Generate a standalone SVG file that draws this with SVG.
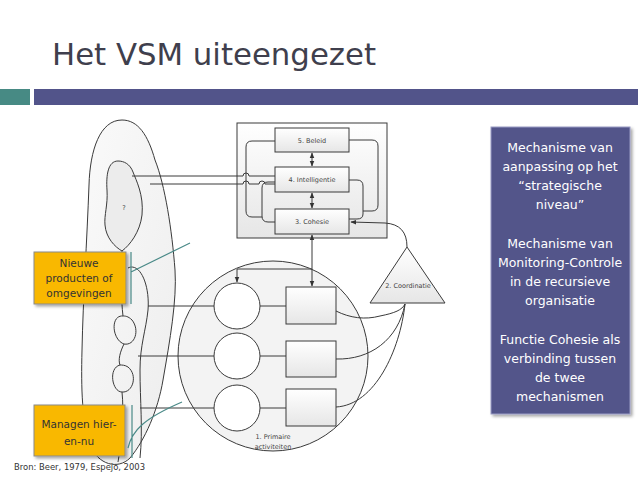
<svg xmlns="http://www.w3.org/2000/svg" width="638" height="479" viewBox="0 0 638 479">
<defs>
<linearGradient id="gBox" x1="0" y1="0" x2="0" y2="1"><stop offset="0" stop-color="#ffffff"/><stop offset="1" stop-color="#e6e6e6"/></linearGradient>
<linearGradient id="gEnv" x1="0" y1="0" x2="1" y2="1"><stop offset="0" stop-color="#fafafa"/><stop offset="1" stop-color="#ededed"/></linearGradient>
<filter id="sh" x="-10%" y="-10%" width="130%" height="130%"><feDropShadow dx="2" dy="2" stdDeviation="1.5" flood-color="#000" flood-opacity="0.35"/></filter>
<marker id="ah" viewBox="0 0 10 10" refX="9" refY="5" markerWidth="6" markerHeight="6" orient="auto-start-reverse"><path d="M0,1 L10,5 L0,9 Z" fill="#333"/></marker>
<style>
.ln{fill:none;stroke:#3a3a3a;stroke-width:1}
.bx{fill:url(#gBox);stroke:#3a3a3a;stroke-width:1}
.sm{font-family:"DejaVu Sans",sans-serif;font-size:6.5px;fill:#444;text-anchor:middle}
.yb{fill:#f9b800;stroke:#8a8a8a;stroke-width:1}
.yt{font-family:"DejaVu Sans",sans-serif;font-size:10.5px;fill:#333;text-anchor:middle}
.wt{font-family:"DejaVu Sans",sans-serif;font-size:12.5px;fill:#ffffff;text-anchor:middle}
.tl{fill:none;stroke:#4a8a88;stroke-width:1.2}
</style>
</defs>
<rect width="638" height="479" fill="#ffffff"/>
<g id="title">
<text x="52" y="65" font-family="DejaVu Sans,sans-serif" font-size="30" fill="#3f3f4d" textLength="324" lengthAdjust="spacingAndGlyphs">Het VSM uiteengezet</text>
<rect x="0" y="89" width="30" height="16" fill="#478a84"/>
<rect x="34" y="89" width="604" height="16" fill="#52548a"/>
</g>
<g id="environment">
<path class="ln" fill="url(#gEnv)" style="fill:url(#gEnv)" d="M122,120 C100,120 90,150 89,185 C87,240 83,300 82,350 C81,390 82,420 90,445 C98,465 118,470 130,458 C145,440 158,410 163,380 C170,340 177,300 175,270 C172,230 165,185 155,160 C148,135 138,120 122,120 Z"/>
<path class="ln" style="fill:#ececec" d="M118,161 C108,161 106,175 107,190 C108,205 104,215 105,225 C106,238 115,247 122,251 C130,245 140,232 142,215 C144,195 136,180 133,172 C130,164 124,161 118,161 Z"/>
<text class="sm" x="124" y="210">?</text>
<path class="ln" d="M122,251 C121,275 121,300 123,316"/>
<path class="ln" d="M128,268 C140,262 150,285 148,310 C146,330 140,345 140,370 C140,400 143,430 140,458"/>
<path class="ln" d="M123,316 C110,315 112,340 124,344 C135,346 140,330 132,320 C128,316 125,316 123,316 Z"/>
<path class="ln" d="M124,344 C120,352 118,360 120,365 C108,368 112,392 122,392 C133,393 138,375 128,367 C125,365 122,365 120,365"/>
<path class="ln" d="M122,392 C124,410 122,440 118,462"/>
</g>
<g id="s1">
<circle cx="273" cy="356" r="95" fill="#f3f3f3" stroke="#3a3a3a" stroke-width="1"/>
<circle cx="237" cy="306" r="23" fill="#ffffff" stroke="#3a3a3a"/>
<circle cx="237" cy="356" r="23" fill="#ffffff" stroke="#3a3a3a"/>
<circle cx="237" cy="408" r="23" fill="#ffffff" stroke="#3a3a3a"/>
<rect class="bx" x="286" y="287" width="50" height="37"/>
<rect class="bx" x="286" y="341" width="50" height="36"/>
<rect class="bx" x="286" y="389" width="50" height="37"/>
<text class="sm" x="273" y="439">1. Primaire</text>
<text class="sm" x="273" y="449">activiteiten</text>
</g>
<g id="metasystem">
<rect x="237" y="123" width="150" height="115" fill="url(#gBox)" stroke="#3a3a3a"/>
</g>
<g id="connectors">
<path class="ln" d="M148,306 H214 M138,356 H214 M140,408 H214"/>
<path class="ln" d="M260,306 H286 M260,356 H286 M260,408 H286"/>
<path class="ln" d="M275,141 H252 Q246,141 246,147 V211 Q246,217 252,217 H262"/>
<path class="ln" d="M275,182 H268 Q262,182 262,188 V216 Q262,222 268,222 H275"/>
<path class="ln" d="M349,140 H372 Q378,140 378,146 V205 Q378,211 372,211 H363"/>
<path class="ln" d="M349,180 H357 Q363,180 363,186 V214 Q363,219 357,219 H349"/>
<path class="ln" d="M132,176 H243 A3,3 0 0 1 249,176 H275"/>
<path class="ln" d="M150,184 H243 A3,3 0 0 1 249,184 H259 A3,3 0 0 1 265,184 H275"/>
<path class="ln" marker-start="url(#ah)" marker-end="url(#ah)" d="M312,153 V166"/>
<path class="ln" marker-start="url(#ah)" marker-end="url(#ah)" d="M312,193 V208"/>
<path class="ln" marker-start="url(#ah)" marker-end="url(#ah)" d="M312,235 V286"/>
<path class="ln" marker-end="url(#ah)" d="M312,269 H237 V282"/>
<path class="ln" marker-end="url(#ah)" d="M407,247 C407,232 400,224 385,223 L351,222"/>
<path class="ln" d="M336,311 C350,318 365,320 380,316 C395,313 402,310 405,304"/>
<path class="ln" d="M336,359 C370,360 398,340 405,304"/>
<path class="ln" d="M336,407 C375,405 400,350 405,304"/>
</g>
<g id="s5"><rect class="bx" x="275" y="128" width="74" height="24"/><text class="sm" x="312" y="142.5">5. Beleid</text></g>
<g id="s4"><rect class="bx" x="275" y="167" width="74" height="25"/><text class="sm" x="312" y="182">4. Intelligentie</text></g>
<g id="s3"><rect class="bx" x="275" y="209" width="74" height="25"/><text class="sm" x="312" y="224">3. Cohesie</text></g>
<g id="s2">
<path d="M407,247 L445,303 L370,303 Z" fill="url(#gBox)" stroke="#3a3a3a"/>
<text class="sm" x="408" y="288">2. Coordinatie</text>
</g>
<g id="nieuwe">
<rect class="yb" x="34" y="252" width="92" height="52" filter="url(#sh)"/>
<text class="yt" x="79" y="267">Nieuwe</text>
<text class="yt" x="79" y="282">producten of</text>
<text class="yt" x="79" y="297">omgevingen</text>
<path class="tl" d="M131,252 V304 M131,272 L190,243"/>
</g>
<g id="managen">
<rect class="yb" x="34" y="405" width="91" height="51" filter="url(#sh)"/>
<text class="yt" x="79" y="428">Managen hier-</text>
<text class="yt" x="79" y="445">en-nu</text>
<path class="tl" d="M132,405 V458 M128,448 C132,430 145,418 182,402"/>
</g>
<g id="legend">
<rect x="491" y="127" width="139" height="287" fill="#52548a" stroke="#9a9cc4" stroke-width="1" filter="url(#sh)"/>
<text class="wt" x="560" y="152">Mechanisme van</text>
<text class="wt" x="560" y="171">aanpassing op het</text>
<text class="wt" x="560" y="190">“strategische</text>
<text class="wt" x="560" y="209">niveau”</text>
<text class="wt" x="560" y="248">Mechanisme van</text>
<text class="wt" x="560" y="267">Monitoring-Controle</text>
<text class="wt" x="560" y="286">in de recursieve</text>
<text class="wt" x="560" y="305">organisatie</text>
<text class="wt" x="560" y="344">Functie Cohesie als</text>
<text class="wt" x="560" y="363">verbinding tussen</text>
<text class="wt" x="560" y="382">de twee</text>
<text class="wt" x="560" y="401">mechanismen</text>
</g>
<text x="14" y="470" font-family="DejaVu Sans,sans-serif" font-size="9.5" fill="#333" textLength="131" lengthAdjust="spacingAndGlyphs">Bron: Beer, 1979, Espejo, 2003</text>
</svg>
